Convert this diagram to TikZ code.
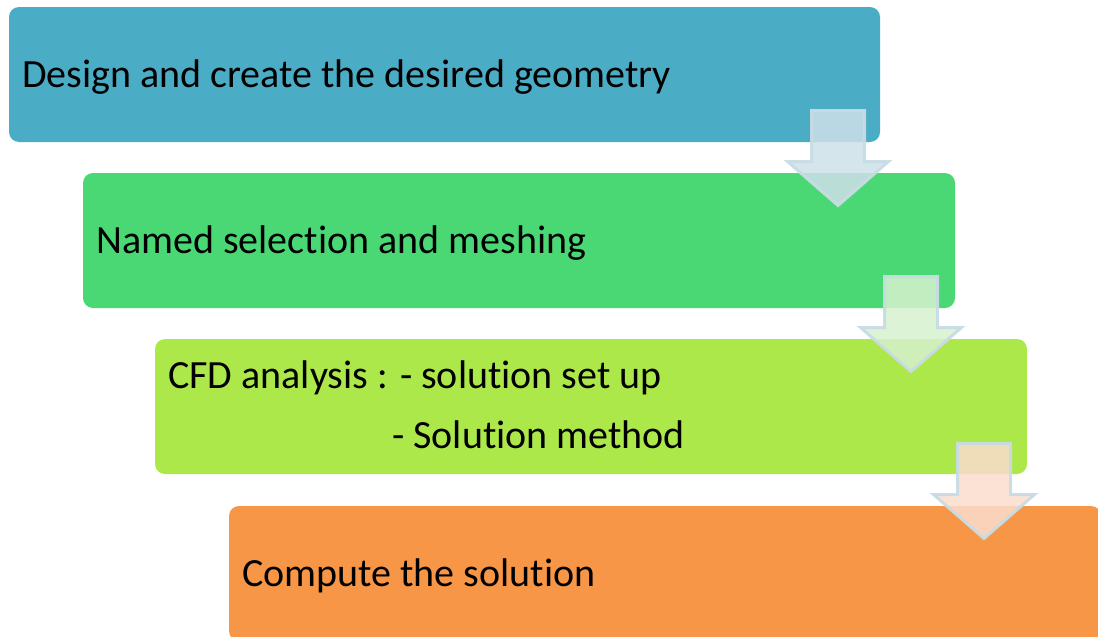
\documentclass[tikz,border=0pt]{standalone}
\usepackage{fontspec}
\setmainfont{Carlito}[Ligatures={NoCommon}]
\begin{document}
\definecolor{stepblue}{RGB}{75,172,198}
\definecolor{stepgreen}{RGB}{74,216,116}
\definecolor{steplime}{RGB}{173,232,74}
\definecolor{steporange}{RGB}{247,150,70}
\definecolor{arrowline}{RGB}{200,220,228}
\definecolor{tintblue}{RGB}{206,224,233}
\definecolor{tintgreen}{RGB}{214,241,206}
\definecolor{tintorange}{RGB}{251,220,206}
\begin{tikzpicture}[x=1pt,y=-1pt,
  stepbox/.style={rounded corners=10pt},
  steptext/.style={anchor=base west,inner sep=0pt,font=\fontsize{40}{48}\selectfont},
  downarrow/.style={draw=arrowline,line width=3pt,fill opacity=0.85,draw opacity=0.95}]
\useasboundingbox (0,0) rectangle (1098,637);
\clip (0,0) rectangle (1098,637);

% process steps
\fill[stepblue,stepbox]   (9,7)    rectangle (880,142);
\fill[stepgreen,stepbox]  (83,173) rectangle (955,308);
\fill[steplime,stepbox]   (155,339) rectangle (1027,474);
\fill[steporange,stepbox] (229,506) rectangle (1101,641);

\node[steptext] (t1) at (22,87.5) {Design and create the desired geometry};
\node[steptext] (t2) at (96,253.5) {Named selection and meshing};
\node[steptext] (t3) at (168,388) {CFD analysis : - solution set up};
\node[steptext] (t3b) at (392,448) {- Solution method};
\node[steptext] (t4) at (242,586.5) {Compute the solution};

% block arrows between steps
\newcommand{\blockarrow}[3]{%
  \filldraw[downarrow,fill=#3]
    (#1-26.5,#2+1.5) -- (#1+26.5,#2+1.5) -- (#1+26.5,#2+52.5)
    -- (#1+50.5,#2+52.5) -- (#1,#2+96.5) -- (#1-50.5,#2+52.5)
    -- (#1-26.5,#2+52.5) -- cycle;}
\blockarrow{838}{109}{tintblue}
\blockarrow{911}{275}{tintgreen}
\blockarrow{984}{442}{tintorange}
\end{tikzpicture}
\end{document}
